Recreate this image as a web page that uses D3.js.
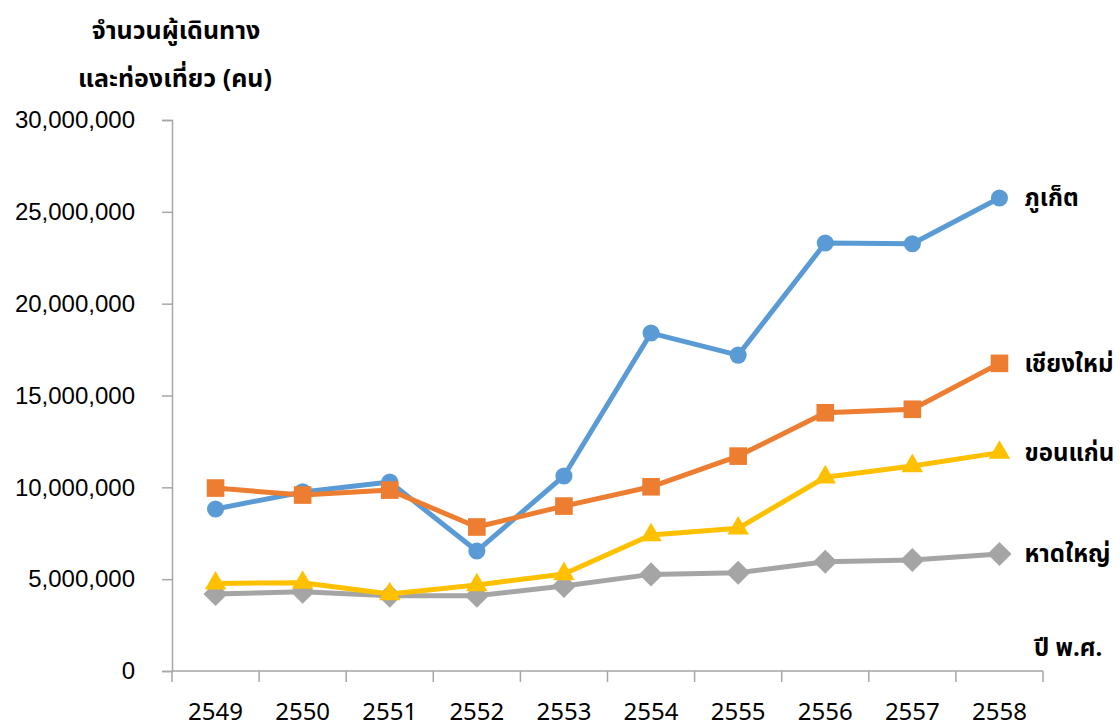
<!DOCTYPE html>
<html>
<head>
<meta charset="utf-8">
<script src="https://cdn.jsdelivr.net/npm/d3@7/dist/d3.min.js"></script>
<style>
  html, body { margin: 0; padding: 0; background: #fff; }
  svg { display: block; font-family: "Noto Sans", "Noto Sans Thai", "Loma", "Garuda", sans-serif; }
</style>
</head>
<body>
<svg id="chart" width="1120" height="726"></svg>
<script>
// Years (Buddhist era) on the x axis
const years = ["2549", "2550", "2551", "2552", "2553", "2554", "2555", "2556", "2557", "2558"];

// Travellers and tourists per province (persons)
const phuket    = [8820000, 9750000, 10290000, 6530000, 10620000, 18400000, 17200000, 23300000, 23260000, 25750000];
const chiangMai = [9960000, 9580000, 9850000, 7840000, 8980000, 10030000, 11700000, 14060000, 14250000, 16750000];
const khonKaen  = [4770000, 4810000, 4190000, 4680000, 5280000, 7400000, 7770000, 10550000, 11160000, 11890000];
const hatYai    = [4190000, 4320000, 4100000, 4100000, 4630000, 5260000, 5350000, 5950000, 6040000, 6370000];

const yTicks = [0, 5000000, 10000000, 15000000, 20000000, 25000000, 30000000];

const series = [
  { name: "ภูเก็ต",    values: phuket,    color: "#5B9BD5", marker: "circle" },
  { name: "เชียงใหม่", values: chiangMai, color: "#ED7D31", marker: "square" },
  { name: "หาดใหญ่",  values: hatYai,    color: "#A5A5A5", marker: "diamond" },
  { name: "ขอนแก่น",  values: khonKaen,  color: "#FFC000", marker: "triangle" }
];

const svg = d3.select("#chart");
const plotLeft = 172, plotRight = 1043, plotTop = 120, plotBottom = 671;

const x = d3.scaleBand().domain(years).range([plotLeft, plotRight]).padding(0);
const y = d3.scaleLinear().domain([0, 30000000]).range([plotBottom, plotTop]);
const cx = d => x(d) + x.bandwidth() / 2;

const axisColor = "#a6a6a6";

// Y axis
const yAxis = svg.append("g")
  .attr("transform", `translate(${plotLeft},0)`)
  .call(d3.axisLeft(y).tickValues(yTicks).tickSize(10).tickPadding(27)
    .tickFormat(d3.format(",")));
yAxis.select(".domain").attr("stroke", axisColor).attr("stroke-width", 1.5);
yAxis.selectAll(".tick line").attr("stroke", axisColor).attr("stroke-width", 1.5);
yAxis.selectAll(".tick text")
  .attr("fill", "#000").attr("font-size", 24).attr("font-family", "inherit");

// X axis with boundary ticks between categories
const xAxisG = svg.append("g").attr("transform", `translate(0,${plotBottom})`);
xAxisG.append("line")
  .attr("x1", plotLeft).attr("x2", plotRight).attr("y1", 0).attr("y2", 0)
  .attr("stroke", axisColor).attr("stroke-width", 1.5);
const bounds = years.map(d => x(d)).concat([plotRight]);
xAxisG.selectAll("line.bt").data(bounds).join("line")
  .attr("class", "bt")
  .attr("x1", d => d).attr("x2", d => d).attr("y1", 0).attr("y2", 11)
  .attr("stroke", axisColor).attr("stroke-width", 1.5);
xAxisG.selectAll("text.yl").data(years).join("text")
  .attr("class", "yl")
  .attr("x", d => cx(d)).attr("y", 49)
  .attr("text-anchor", "middle").attr("font-size", 24).attr("fill", "#000")
  .text(d => d);

// Lines and markers
const line = d3.line().x((d, i) => cx(years[i])).y(d => y(d));

const symbolFor = {
  circle:   d3.symbol().type(d3.symbolCircle).size(230),
  square:   d3.symbol().type(d3.symbolSquare).size(310),
  diamond:  d3.symbol().type(d3.symbolSquare).size(290),
  triangle: d3.symbol().type(d3.symbolTriangle).size(200)
};

series.forEach(s => {
  const g = svg.append("g");
  g.append("path")
    .attr("d", line(s.values))
    .attr("fill", "none").attr("stroke", s.color)
    .attr("stroke-width", 5).attr("stroke-linejoin", "round");
  g.selectAll("path.m").data(s.values).join("path")
    .attr("class", "m")
    .attr("transform", (d, i) => `translate(${cx(years[i])},${y(d)})` +
      (s.marker === "diamond" ? " rotate(45)" : ""))
    .attr("d", symbolFor[s.marker]())
    .attr("fill", s.color);
  // series name at the end of each line
  const last = s.values[s.values.length - 1];
  g.append("text")
    .attr("x", cx(years[years.length - 1]) + 25)
    .attr("y", y(last))
    .attr("dy", "0.35em")
    .attr("font-size", 24).attr("font-weight", "bold").attr("fill", "#000")
    .text(s.name);
});

// Axis titles
svg.append("text").attr("x", 176).attr("y", 39)
  .attr("text-anchor", "middle").attr("font-size", 25).attr("font-weight", "bold")
  .text("จำนวนผู้เดินทาง");
svg.append("text").attr("x", 175).attr("y", 87)
  .attr("text-anchor", "middle").attr("font-size", 25).attr("font-weight", "bold")
  .text("และท่องเที่ยว (คน)");
svg.append("text").attr("x", 1034).attr("y", 656)
  .attr("font-size", 24).attr("font-weight", "bold")
  .text("ปี พ.ศ.");
</script>
</body>
</html>
